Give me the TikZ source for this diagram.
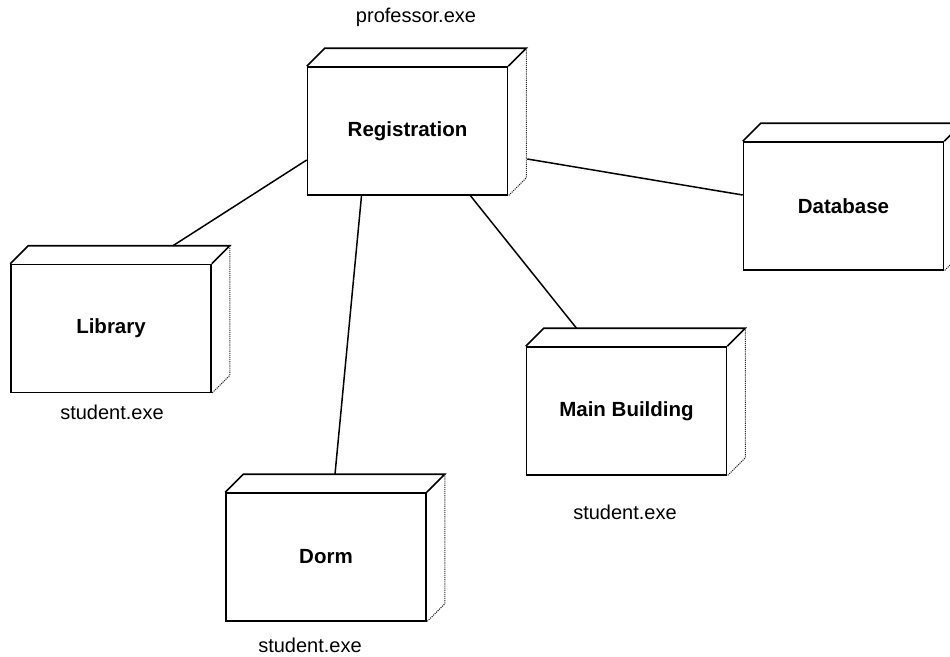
\documentclass[tikz,border=0pt]{standalone}
\usepackage{fontspec}
\setmainfont{Liberation Sans}
\usepackage{tikz}
\usetikzlibrary{positioning}
\tikzstyle{devnode} = [rectangle, minimum width=200pt, minimum height=128pt, text centered, draw=black, line width=1.6pt, font=\fontsize{20.5}{24}\selectfont\bfseries, inner sep=0pt]
\tikzstyle{boxtop} = [line width=1.6pt, line join=miter]
\tikzstyle{boxside} = [line width=1.1pt, densely dotted, color=black!85]
\tikzstyle{link} = [line width=1.5pt]
\tikzstyle{exe} = [font=\fontsize{20}{24}\selectfont]

\begin{document}
\begin{tikzpicture}[x=1pt, y=-1pt]
\useasboundingbox (0,0) rectangle (950,656);
% Nodes
\node (reg) [devnode] at (407.5,131) {Registration};
\node (lib) [devnode] at (111,328.5) {Library};
\node (db) [devnode] at (843.5,206) {Database};
\node (main) [devnode] at (626.5,411) {Main Building};
\node (dorm) [devnode] at (326,557) {Dorm};

% 3D faces
\foreach \n in {reg,lib,db,main,dorm} {
  \draw[boxtop] (\n.north west) -- ++(18pt,18pt) -- ([shift={(18pt,18pt)}]\n.north east) -- (\n.north east);
  \draw[boxside] ([shift={(18pt,18pt)}]\n.north east) -- ([shift={(18pt,18pt)}]\n.south east) -- (\n.south east);
}

% Links
\draw[link] ([yshift=-29pt]reg.west) -- ([shift={(62pt,18pt)}]lib.north);
\draw[link] ([shift={(19pt,-28pt)}]reg.east) -- ([yshift=11pt]db.west);
\draw[link] ([xshift=63pt]reg.south) -- ([shift={(-50pt,18pt)}]main.north);
\draw[link] ([xshift=-46pt]reg.south) -- ([shift={(9pt,18pt)}]dorm.north);

% Labels
\node (regexe) [exe] at (416,17) {professor.exe};
\node (libexe) [exe] at (112,412) {student.exe};
\node (mainexe) [exe] at (625,512) {student.exe};
\node (dormexe) [exe] at (310,645) {student.exe};
\end{tikzpicture}
\end{document}
